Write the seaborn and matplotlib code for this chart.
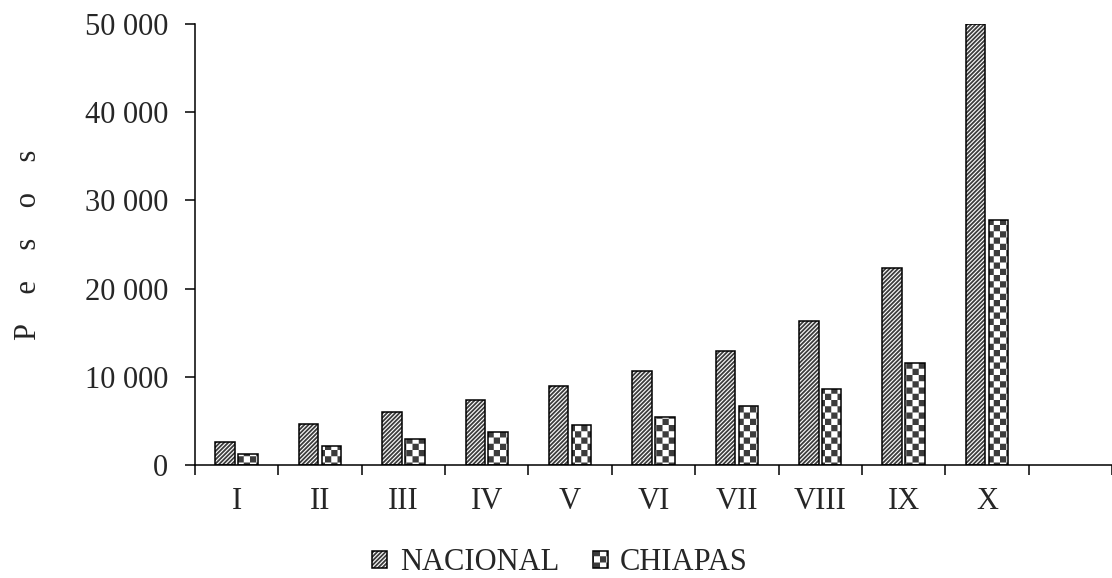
import numpy as np
import pandas as pd
import matplotlib
matplotlib.use("Agg")
import matplotlib.pyplot as plt
import matplotlib.hatch as mhatch
import matplotlib.colors as mcolors
from matplotlib.path import Path
from matplotlib.ticker import FuncFormatter, FixedLocator
import seaborn as sns

# ---------------- data ----------------
deciles = ["I", "II", "III", "IV", "V", "VI", "VII", "VIII", "IX", "X"]
nacional = [2640, 4610, 5970, 7370, 8920, 10660, 12960, 16360, 22300, 50000]
chiapas = [1280, 2150, 2910, 3700, 4570, 5480, 6720, 8620, 11530, 27780]
series = ["NACIONAL", "CHIAPAS"]
y_ticks = [0, 10000, 20000, 30000, 40000, 50000]
y_label = "P    e    s    o    s"


# ---------------- checkerboard hatch ----------------
class CheckerHatch(mhatch.HatchPatternBase):
    cells = 16
    inset = 0.009

    def __init__(self, hatch, density):
        if "O" in hatch:
            self.num_vertices = (self.cells * self.cells // 2) * 5
        else:
            self.num_vertices = 0

    def set_vertices_and_codes(self, vertices, codes):
        n = self.cells
        s = 1.0 / n
        d = self.inset
        verts, cds = [], []
        for i in range(n):
            for j in range(n):
                if (i + j) % 2 == 0:
                    x0, y0 = i * s + d, j * s + d
                    x1, y1 = (i + 1) * s - d, (j + 1) * s - d
                    verts += [(x0, y0), (x1, y0), (x1, y1), (x0, y1), (x0, y0)]
                    cds += [Path.MOVETO, Path.LINETO, Path.LINETO,
                            Path.LINETO, Path.CLOSEPOLY]
        vertices[:] = verts
        codes[:] = cds


mhatch._hatch_types[:] = [CheckerHatch if t is mhatch.LargeCircles else t
                          for t in mhatch._hatch_types]

# ---------------- style ----------------
sns.set_style("white")
plt.rcParams["font.family"] = ["Liberation Serif", "DejaVu Serif"]
plt.rcParams["hatch.linewidth"] = 1.3
FS = 22

df = pd.DataFrame({
    "decil": deciles * 2,
    "pesos": nacional + chiapas,
    "region": [series[0]] * len(deciles) + [series[1]] * len(deciles),
})

fig = plt.figure(figsize=(11.12, 5.78), dpi=100)
ax = fig.add_axes([195 / 1112, (578 - 465) / 578, 1 - 195 / 1112, (465 - 24) / 578])

sns.barplot(data=df, x="decil", y="pesos", hue="region", order=deciles,
            hue_order=series, palette=["white", "white"], edgecolor="black",
            linewidth=1.1, width=0.55, gap=0.15, legend=False, ax=ax,
            errorbar=None)

hatches = ["////////", "O"]
hcolor = mcolors.to_rgba("#3c3c3c")
for cont, h in zip(ax.containers, hatches):
    for p in cont.patches:
        p.set_hatch(h)
        p._hatch_color = hcolor

ax.set_xlim(-0.5, 10.45)
ax.set_ylim(0, 50000)

# spines
sns.despine(ax=ax, top=True, right=True)
for sp in ["left", "bottom"]:
    ax.spines[sp].set_linewidth(1.1)
    ax.spines[sp].set_color("black")

# y axis
ax.yaxis.set_major_locator(FixedLocator(y_ticks))
ax.yaxis.set_major_formatter(FuncFormatter(lambda v, p: f"{v:,.0f}".replace(",", " ")))
ax.tick_params(axis="y", which="major", direction="out", length=7.2, width=1.1,
               pad=12, labelsize=FS, left=True, color="black")
ax.set_ylabel(y_label, fontsize=FS)
ax.yaxis.set_label_coords(-0.166, 0.5)

# x axis: labels at centres, ticks at boundaries
ax.set_xticks(range(len(deciles)))
ax.set_xticklabels(deciles)
ax.set_xticks(np.arange(-0.5, 10.6, 1.0), minor=True)
ax.tick_params(axis="x", which="major", length=0, pad=16, labelsize=FS)
ax.tick_params(axis="x", which="minor", direction="out", length=7.2, width=1.1,
               bottom=True, color="black")
ax.set_xlabel("")

# legend
handles = [cont.patches[0] for cont in ax.containers]
leg = fig.legend(handles, series, loc="center", bbox_to_anchor=(560 / 1112, 1 - 563 / 578),
                 ncol=2, frameon=False, fontsize=FS, handlelength=0.5,
                 handleheight=0.5, handletextpad=0.4, columnspacing=1.1,
                 borderpad=0, borderaxespad=0)

fig.savefig("out.png", dpi=100)
